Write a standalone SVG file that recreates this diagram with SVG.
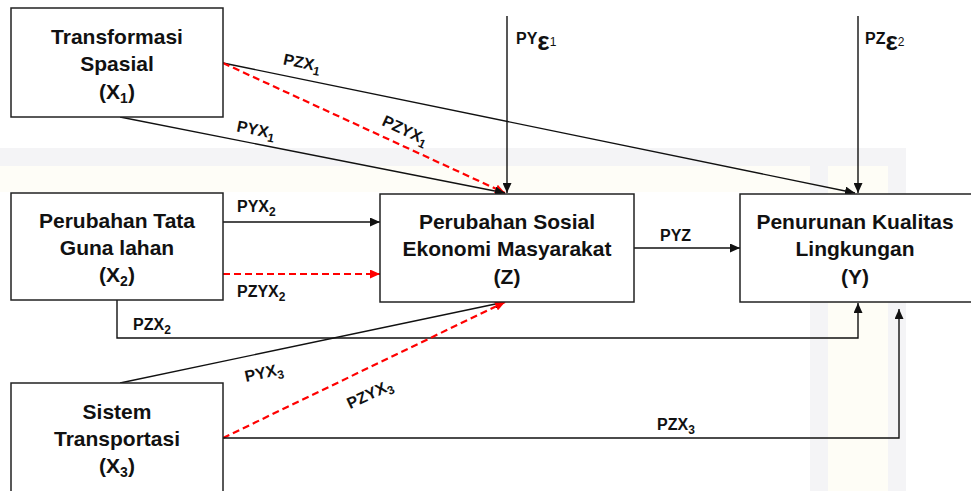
<svg xmlns="http://www.w3.org/2000/svg" width="971" height="491" viewBox="0 0 971 491">
<style>
.box{fill:#fff;stroke:#222;stroke-width:1.5}
.nt{font-family:"Liberation Sans",Arial,sans-serif;font-weight:bold;font-size:21px;fill:#111;text-anchor:middle}
.lb{font-family:"Liberation Sans",Arial,sans-serif;font-weight:bold;font-size:16px;fill:#111}
.ln{fill:none;stroke:#111;stroke-width:1.4}
.rd{fill:none;stroke:#f00;stroke-width:2.2;stroke-dasharray:7,4}
.wm{stroke:none}
</style>
<defs>
<marker id="ab" markerUnits="userSpaceOnUse" markerWidth="11" markerHeight="9" refX="10" refY="4.5" orient="auto"><path d="M0,0 L10,4.5 L0,9 z" fill="#111"/></marker>
<marker id="ar" markerUnits="userSpaceOnUse" markerWidth="11" markerHeight="9" refX="10" refY="4.5" orient="auto"><path d="M0,0 L10,4.5 L0,9 z" fill="#f00"/></marker>
</defs>
<rect width="971" height="491" fill="#fff"/>
<g id="watermark">
<rect class="wm" x="0" y="148" width="906" height="18" fill="#f4f4f6"/>
<rect class="wm" x="0" y="166" width="888" height="26" fill="#fefdf7"/>
<rect class="wm" x="810" y="166" width="18" height="325" fill="#f4f4f6"/>
<rect class="wm" x="828" y="166" width="60" height="325" fill="#fefdf6"/>
<rect class="wm" x="888" y="166" width="18" height="325" fill="#f4f4f6"/>
</g>
<g id="connectors">
<path class="ln" d="M223,63 L855,193" marker-end="url(#ab)"/>
<path class="rd" d="M223,63 L505,193" marker-end="url(#ar)"/>
<path class="ln" d="M120,117 L505,193" marker-end="url(#ab)"/>
<path class="ln" d="M507,16 L507,193" marker-end="url(#ab)"/>
<path class="ln" d="M858,16 L858,193" marker-end="url(#ab)"/>
<path class="ln" d="M223,222 L380,222" marker-end="url(#ab)"/>
<path class="rd" d="M223,274 L380,274" marker-end="url(#ar)"/>
<path class="ln" d="M117,300 L117,338 L858,338 L858,303" marker-end="url(#ab)"/>
<path class="ln" d="M120,383 L505,302" marker-end="url(#ab)"/>
<path class="rd" d="M223,438 L505,302" marker-end="url(#ar)"/>
<path class="ln" d="M223,438 L899,438 L899,309" marker-end="url(#ab)"/>
<path class="ln" d="M634,248 L740,248" marker-end="url(#ab)"/>
</g>
<g id="labels">
<text class="lb" text-anchor="middle" transform="translate(301,68) rotate(11.6)">PZX<tspan font-size="12" dy="4">1</tspan></text>
<text class="lb" text-anchor="middle" transform="translate(255,135) rotate(11)">PYX<tspan font-size="12" dy="4">1</tspan></text>
<text class="lb" text-anchor="middle" transform="translate(403,135) rotate(24.7)">PZYX<tspan font-size="12" dy="4">1</tspan></text>
<text class="lb" x="237" y="212">PYX<tspan font-size="12" dy="4">2</tspan></text>
<text class="lb" x="237" y="297">PZYX<tspan font-size="12" dy="4">2</tspan></text>
<text class="lb" x="133" y="330">PZX<tspan font-size="12" dy="4">2</tspan></text>
<text class="lb" text-anchor="middle" transform="translate(265,378) rotate(-12)">PYX<tspan font-size="12" dy="4">3</tspan></text>
<text class="lb" text-anchor="middle" transform="translate(372,399) rotate(-25)">PZYX<tspan font-size="12" dy="4">3</tspan></text>
<text class="lb" x="657" y="430">PZX<tspan font-size="12" dy="4">3</tspan></text>
<text class="lb" x="660" y="241">PYZ</text>
<text class="lb" x="516" y="44">PY<tspan font-size="26" dy="6">ε</tspan><tspan font-size="12" font-weight="normal" dy="-4">1</tspan></text>
<text class="lb" x="865" y="44">PZ<tspan font-size="26" dy="6">ε</tspan><tspan font-size="12" font-weight="normal" dy="-4">2</tspan></text>
</g>
<g id="node-x1">
<rect class="box" x="11" y="8" width="212" height="109"/>
<text class="nt" x="117" y="44">Transformasi</text>
<text class="nt" x="117" y="71">Spasial</text>
<text class="nt" x="117" y="99">(X<tspan font-size="14" dy="4">1</tspan><tspan dy="-4">)</tspan></text>
</g>
<g id="node-x2">
<rect class="box" x="11" y="193" width="212" height="107"/>
<text class="nt" x="117" y="228">Perubahan Tata</text>
<text class="nt" x="117" y="255">Guna lahan</text>
<text class="nt" x="117" y="282">(X<tspan font-size="14" dy="4">2</tspan><tspan dy="-4">)</tspan></text>
</g>
<g id="node-x3">
<rect class="box" x="11" y="383" width="212" height="120"/>
<text class="nt" x="117" y="419">Sistem</text>
<text class="nt" x="117" y="446">Transportasi</text>
<text class="nt" x="117" y="473">(X<tspan font-size="14" dy="4">3</tspan><tspan dy="-4">)</tspan></text>
</g>
<g id="node-z">
<rect class="box" x="380" y="194" width="254" height="108"/>
<text class="nt" x="507" y="229">Perubahan Sosial</text>
<text class="nt" x="507" y="256">Ekonomi Masyarakat</text>
<text class="nt" x="507" y="284">(Z)</text>
</g>
<g id="node-y">
<rect class="box" x="740" y="194" width="240" height="108"/>
<text class="nt" x="855" y="229">Penurunan Kualitas</text>
<text class="nt" x="855" y="256">Lingkungan</text>
<text class="nt" x="855" y="284">(Y)</text>
</g>
</svg>
